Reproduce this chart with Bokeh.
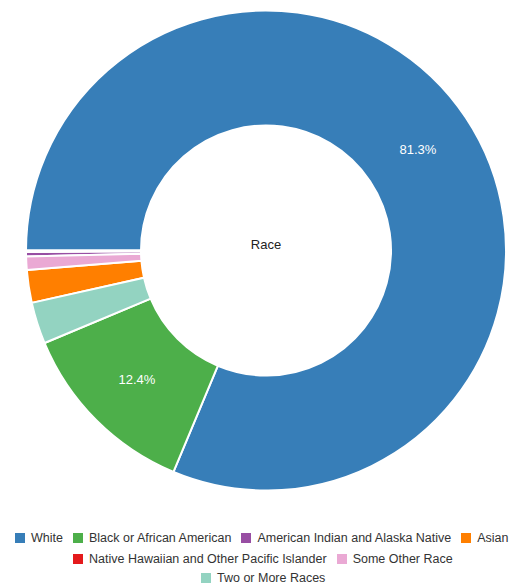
import math
from bokeh.plotting import figure
from bokeh.models import ColumnDataSource, Range1d, Legend, LegendItem
from bokeh.core.properties import value
from bokeh.embed import file_html
from bokeh.resources import INLINE

# ---- data (legend order) ----
categories = ["White", "Black or African American", "American Indian and Alaska Native",
              "Asian", "Native Hawaiian and Other Pacific Islander", "Some Other Race",
              "Two or More Races"]
shares = [81.3, 12.4, 0.3, 2.2, 0.1, 0.9, 2.8]
colors = ["#377eb8", "#4daf4a", "#984ea3", "#ff7f00", "#e41a1c", "#eaa9d4", "#93d3c1"]
legend_rows = [[0, 1, 2, 3], [4, 5], [6]]
center_title = "Race"

# ---- layout ----
W, H = 514, 585
cx, cy = 265.5, H - 250
r_out, r_in = 240, 125
legend_pos = [(12, 40), (70, 19), (198, 0)]   # screen px from frame bottom-left

# slices drawn clockwise from 9 o'clock, largest first
total = sum(shares)
order = sorted(range(len(shares)), key=lambda i: -shares[i])
start = [0.0] * len(shares)
end = [0.0] * len(shares)
cum = 0.0
for i in order:
    start[i] = math.pi - 2 * math.pi * cum / total
    cum += shares[i]
    end[i] = math.pi - 2 * math.pi * cum / total

src = ColumnDataSource(dict(cat=categories, share=shares, color=colors,
                            start=start, end=end,
                            x=[cx] * len(shares), y=[cy] * len(shares)))

p = figure(width=W, height=H, output_backend="svg", toolbar_location=None,
           x_range=Range1d(0, W), y_range=Range1d(0, H), min_border=0)
p.axis.visible = False
p.grid.visible = False
p.outline_line_color = None

wr = p.annular_wedge(x="x", y="y", inner_radius=r_in, outer_radius=r_out,
                     start_angle="start", end_angle="end", direction="clock",
                     fill_color="color", line_color="white", line_width=2, source=src)

# percentage labels on large slices
lx, ly, lt = [], [], []
rm = (r_in + r_out) / 2
for i, s in enumerate(shares):
    if s >= 5:
        mid = (start[i] + end[i]) / 2
        lx.append(cx + rm * math.cos(mid))
        ly.append(cy + rm * math.sin(mid))
        lt.append(f"{s:.1f}%")
p.text(x=lx, y=ly, text=lt, text_align="center", text_baseline="middle",
       text_color="white", text_font=value("Liberation Sans"), text_font_size="13px")

p.text(x=[cx], y=[cy + 6], text=[center_title], text_align="center", text_baseline="middle",
       text_color="#222222", text_font=value("Liberation Sans"), text_font_size="13px")

for row, pos in zip(legend_rows, legend_pos):
    items = [LegendItem(label=categories[i], renderers=[wr], index=i) for i in row]
    lg = Legend(items=items, orientation="horizontal", location=pos,
                glyph_width=15, glyph_height=15, label_standoff=4, spacing=7,
                label_height=15, label_width=10, padding=0, margin=0,
                label_text_font="Liberation Sans", label_text_font_size="12.5px",
                label_text_color="#333333", border_line_color=None,
                background_fill_alpha=0)
    p.add_layout(lg)

open("out.html", "w").write(file_html(p, INLINE))
